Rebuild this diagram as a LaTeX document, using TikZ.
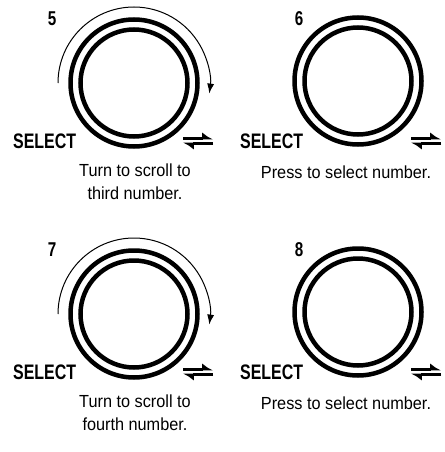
\documentclass[tikz,border=0pt]{standalone}
\usepackage{fontspec}
\setmainfont{Liberation Sans}
\newfontfamily\condfont[FakeStretch=0.76]{Liberation Sans}
\newfontfamily\capfont[FakeStretch=0.93]{Liberation Sans}
\usetikzlibrary{positioning,arrows.meta,calc}

\begin{document}
\begin{tikzpicture}[x=1pt, y=-1pt,
    outerring/.style={circle, draw, line width=4.5pt, minimum size=127pt, inner sep=0pt},
    innerring/.style={circle, draw, line width=4.5pt, minimum size=107pt, inner sep=0pt},
    stepnum/.style={font=\condfont\bfseries\fontsize{20}{20}\selectfont},
    selectlbl/.style={font=\condfont\bfseries\fontsize{21}{21}\selectfont, anchor=west, inner sep=0pt},
    caption/.style={font=\capfont\fontsize{17.5}{23}\selectfont, align=center},
    turnarrow/.style={-{Latex[length=10pt, width=7pt]}, line width=1pt},
    harp/.style={-{Latex[harpoon, length=9pt, width=13pt]}, line width=2.2pt}
  ]
  \useasboundingbox[fill=white] (0,0) rectangle (444,452);

  %% ---- Step 5 ----
  \node[outerring] (ring5) at (134,83) {};
  \node[innerring] (knob5) at (ring5) {};
  \node[stepnum] (num5) at (52,19) {5};
  \node[selectlbl] (sel5) at (13,141) {SELECT};
  \coordinate (sw5) at (198,141);
  \draw[harp] ($(sw5)+(-15,-2.5)$) -- ($(sw5)+(15,-2.5)$);
  \draw[harp] ($(sw5)+(15,2.5)$) -- ($(sw5)+(-15,2.5)$);
  \node[caption] (cap5) at (135,182) {Turn to scroll to\\third number.};
  \draw[turnarrow] ($(ring5)+(-76,0)$) arc[start angle=180, end angle=368, radius=76];

  %% ---- Step 6 ----
  \node[outerring] (ring6) at (358,81) {};
  \node[innerring] (knob6) at (ring6) {};
  \node[stepnum] (num6) at (299,19) {6};
  \node[selectlbl] (sel6) at (240,141) {SELECT};
  \coordinate (sw6) at (426,141);
  \draw[harp] ($(sw6)+(-15,-2.5)$) -- ($(sw6)+(15,-2.5)$);
  \draw[harp] ($(sw6)+(15,2.5)$) -- ($(sw6)+(-15,2.5)$);
  \node[caption] (cap6) at (346,172) {Press to select number.};

  %% ---- Step 7 ----
  \node[outerring] (ring7) at (134,314) {};
  \node[innerring] (knob7) at (ring7) {};
  \node[stepnum] (num7) at (52,250) {7};
  \node[selectlbl] (sel7) at (13,372) {SELECT};
  \coordinate (sw7) at (198,372);
  \draw[harp] ($(sw7)+(-15,-2.5)$) -- ($(sw7)+(15,-2.5)$);
  \draw[harp] ($(sw7)+(15,2.5)$) -- ($(sw7)+(-15,2.5)$);
  \node[caption] (cap7) at (135,413) {Turn to scroll to\\fourth number.};
  \draw[turnarrow] ($(ring7)+(-76,0)$) arc[start angle=180, end angle=368, radius=76];

  %% ---- Step 8 ----
  \node[outerring] (ring8) at (358,312) {};
  \node[innerring] (knob8) at (ring8) {};
  \node[stepnum] (num8) at (299,250) {8};
  \node[selectlbl] (sel8) at (240,372) {SELECT};
  \coordinate (sw8) at (426,372);
  \draw[harp] ($(sw8)+(-15,-2.5)$) -- ($(sw8)+(15,-2.5)$);
  \draw[harp] ($(sw8)+(15,2.5)$) -- ($(sw8)+(-15,2.5)$);
  \node[caption] (cap8) at (346,403) {Press to select number.};

\end{tikzpicture}
\end{document}
